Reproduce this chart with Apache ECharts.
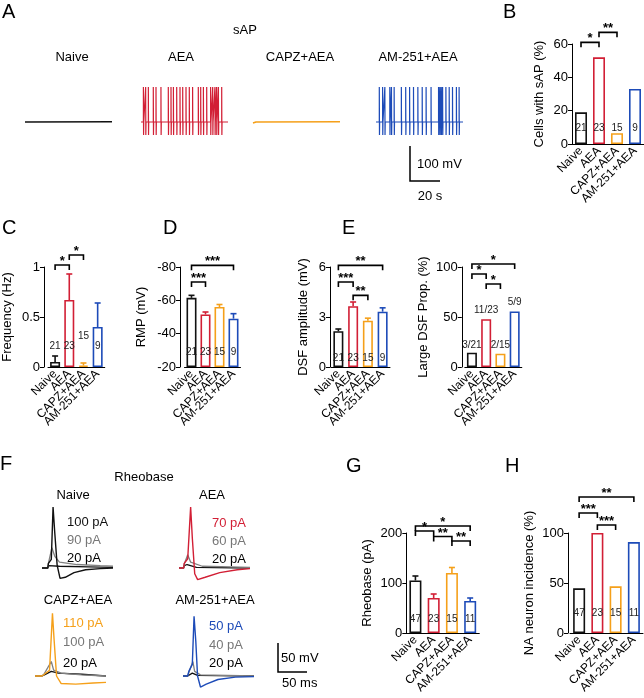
<!DOCTYPE html>
<html><head><meta charset="utf-8">
<script src="https://cdn.jsdelivr.net/npm/echarts@6/dist/echarts.min.js"></script>
<style>html,body{margin:0;padding:0;background:#fff}#c{width:644px;height:698px}</style>
</head><body><div id="c"></div>
<script>
// ---------- data ----------
const groups = ['Naive','AEA','CAPZ+AEA','AM-251+AEA'];
const colors = ['#111111','#d21f35','#f5a01a','#1d4bb8'];
// B
const sapPct = [19,52,6.5,33];
const sapN = ['21','23','15','9'];
// C
const freqMean = [0.05,0.67,0.015,0.40];
const freqErr = [0.11,0.93,0.04,0.64];
const freqN = ['21','23','15','9'];
const freqNPos = [0.21,0.21,0.31,0.21];
// D
const rmpMean = [-61.5,-51.5,-56,-49];
const rmpErr = [-63,-53,-57.5,-52];
const rmpN = ['21','23','15','9'];
// E
const dsfMean = [2.15,3.65,2.78,3.32];
const dsfErr = [2.28,3.9,2.93,3.55];
const dsfN = ['21','23','15','9'];
const largeDsf = [14.3,47.8,13.3,55.6];
const largeDsfLab = ['3/21','11/23','2/15','5/9'];
const largeDsfLabPos = [22,57,22,65];
// G
const rheoMean = [105,70,120,64];
const rheoErr = [114,78,131,70];
const rheoN = ['47','23','15','11'];
// H
const naPct = [44.7,100,46.7,90.9];
const naN = ['47','23','15','11'];
// significance: [from, to, level, text]
const sigB = [[0,1,61,'*'],[1,2,67,'**']];
const sigC = [[0,1,1.02,'*'],[1,2,1.12,'*']];
const sigD = [[0,1,71,'***'],[0,3,81,'***']];
const sigE1 = [[0,1,5.1,'***'],[1,2,4.3,'**'],[0,3,6.1,'**']];
const sigE2 = [[0,1,93,'*'],[1,2,83,'*'],[0,3,103,'*']];
const sigG = [[0,1,204,'*'],[1,2,193,'**'],[2,3,184,'**'],[0,3,214,'*']];
const sigH = [[0,1,120,'***'],[1,2,108,'***'],[0,3,136,'**']];
// A: spike times (s)
const spikesAEA = [1.6,3.1,4.9,8.2,10,13.3,18.2,20,21.6,23.8,26,27.8,30,32.2,34.4,38.2,39.8,41.6,43.8,46.4,47.8,49.3,50.4,51.6,53.8];
const spikesAM = [2.2,4.4,5.9,9.2,10.3,12.1,16.9,19.8,22.4,25,27.9,30.8,33.4,36.7,41.7,42.6,43.5,44.4,46.6,48.8,51,53.6,55.4];
const baseNaive = [[0,0],[58,0.5]];
const baseCAPZ = [[0,-3],[2,0],[58,1]];
const spikeAmp = [97,-36];
// F: waveforms [ms, mV]
const fNaive = [
 [[0,-60],[10,-60],[11,-56],[30,-57],[80,-58],[122,-59]],
 [[0,-60],[10,-60],[11,-52],[17,-25],[22,-40],[30,-50],[60,-54],[100,-56],[122,-57]],
 [[0,-60],[10,-60],[11,-52],[16,-45],[19,45],[22,0],[26,-55],[31,-78],[40,-76],[55,-68],[75,-63],[100,-61],[122,-60]]];
const fAEA = [
 [[0,-60],[8,-60],[9,-56],[14,-54],[30,-59],[122,-60]],
 [[0,-60],[8,-60],[9,-53],[15,-37],[20,-50],[40,-57],[122,-59]],
 [[0,-60],[8,-60],[9,-52],[15,-44],[20,45],[23,-10],[27,-70],[32,-80],[45,-76],[70,-68],[100,-63],[122,-61]]];
const fCAPZ = [
 [[0,-60],[12,-60],[16,-58],[28,-52],[40,-55],[80,-57],[122,-60]],
 [[0,-60],[12,-60],[16,-56],[28,-35],[32,-50],[45,-55],[80,-58],[122,-60]],
 [[0,-60],[12,-60],[16,-57],[25,-50],[30,48],[33,0],[37,-60],[45,-73],[70,-74],[100,-72],[122,-71]]];
const fAM = [
 [[0,-60],[8,-60],[10,-57],[16,-55],[25,-59],[122,-60]],
 [[0,-60],[8,-60],[10,-54],[17,-35],[20,-52],[30,-58],[122,-60]],
 [[0,-60],[8,-60],[10,-52],[16,-40],[19,43],[22,0],[25,-60],[30,-79],[40,-74],[60,-66],[90,-62],[122,-61]]];
const fLabels = [['20 pA','90 pA','100 pA'],['20 pA','60 pA','70 pA'],['20 pA','100 pA','110 pA'],['20 pA','40 pA','50 pA']];

// ---------- build ----------
const FONT = '"Liberation Sans", Arial, sans-serif';
const grids=[], xAxes=[], yAxes=[], series=[], graphics=[];

function spikeLine(times){
  const pts=[[0,0]];
  times.forEach(t=>{pts.push([t,0],[t,spikeAmp[0]],[t+0.12,spikeAmp[1]],[t+0.24,0]);});
  pts.push([58,0]);
  return pts;
}
function traceGrid(left,top,w,h,xr,yr){
  const i=grids.length;
  grids.push({left,top,width:w,height:h});
  xAxes.push({gridIndex:i,type:'value',min:xr[0],max:xr[1],show:false});
  yAxes.push({gridIndex:i,type:'value',min:yr[0],max:yr[1],show:false});
  return i;
}
function addLine(gi,data,color,width){
  series.push({type:'line',xAxisIndex:gi,yAxisIndex:gi,data,showSymbol:false,symbol:'none',
    lineStyle:{color,width:width||1.2},silent:true,animation:false});
}
// A
const aLeft=[25,141,253,376];
const aData=[baseNaive,spikeLine(spikesAEA),baseCAPZ,spikeLine(spikesAM)];
aLeft.forEach((l,k)=>{const gi=traceGrid(l,82.4,87,61.2,[0,58],[-60,110]);addLine(gi,aData[k],colors[k],k%2?1.2:1.5);});
// F
const fSets=[fNaive,fAEA,fCAPZ,fAM];
const fPos=[[42,498.4],[179,498.4],[35,606.4],[183,606.4]];
fSets.forEach((set,k)=>{
  const gi=traceGrid(fPos[k][0],fPos[k][1],71,87,[0,122],[-90,60]);
  addLine(gi,set[0],'#111',1.3);addLine(gi,set[1],'#808080',1.3);addLine(gi,set[2],colors[k],1.4);
});

function barPanel(o){
  const gi=grids.length;
  grids.push({left:o.left,top:o.top,width:o.w,height:100});
  xAxes.push({gridIndex:gi,type:'category',data:groups,
    axisLine:{lineStyle:{color:'#000',width:1}},axisTick:{show:false},
    axisLabel:{rotate:45,interval:0,fontSize:12,color:'#000',fontFamily:FONT,margin:5}});
  yAxes.push({gridIndex:gi,type:'value',min:o.min,max:o.max,interval:o.int,offset:o.offset||0,
    name:o.name,nameLocation:'middle',nameGap:o.gap,nameRotate:90,
    nameTextStyle:{fontSize:13,color:'#000',fontFamily:FONT},
    axisLine:{show:true,lineStyle:{color:'#000',width:1}},axisTick:{show:true,length:4,lineStyle:{color:'#000'}},
    splitLine:{show:false},axisLabel:{fontSize:13,color:'#000',fontFamily:FONT,margin:4,formatter:o.fmt}});
  const mk=(v,k)=>({value:v,itemStyle:{color:'#fff',borderColor:colors[k],borderWidth:1.6}});
  if(o.base!=null){
    series.push({type:'bar',xAxisIndex:gi,yAxisIndex:gi,stack:'s'+gi,barWidth:o.bw,silent:true,z:1,
      data:o.vals.map(()=>o.base),itemStyle:{color:'transparent'},animation:false});
    series.push({type:'bar',xAxisIndex:gi,yAxisIndex:gi,stack:'s'+gi,barWidth:o.bw,z:1,
      data:o.vals.map((v,k)=>mk(v-o.base,k)),animation:false});
  } else {
    series.push({type:'bar',xAxisIndex:gi,yAxisIndex:gi,barWidth:o.bw,z:1,data:o.vals.map(mk),animation:false});
  }
  if(o.errs){
    series.push({type:'custom',xAxisIndex:gi,yAxisIndex:gi,clip:false,animation:false,z:5,
      data:o.vals.map((v,k)=>[k,v,o.errs[k]]),
      renderItem:(p,api)=>{const a=api.coord([api.value(0),api.value(1)]),b=api.coord([api.value(0),api.value(2)]);
        const c=colors[p.dataIndex];
        return {type:'group',children:[
          {type:'line',shape:{x1:a[0],y1:a[1],x2:b[0],y2:b[1]},style:{stroke:c,lineWidth:1.6}},
          {type:'line',shape:{x1:b[0]-3,y1:b[1],x2:b[0]+3,y2:b[1]},style:{stroke:c,lineWidth:1.6}}]};}});
  }
  series.push({type:'custom',xAxisIndex:gi,yAxisIndex:gi,clip:false,animation:false,z:10,
    data:o.nLab.map((t,k)=>[k,o.nPos[k]]),
    renderItem:(p,api)=>{const a=api.coord([api.value(0),api.value(1)]);
      return {type:'text',z2:10,style:{text:o.nLab[p.dataIndex],x:a[0],y:a[1],align:'center',verticalAlign:'middle',
        font:'10px '+FONT,fill:'#222'}};}});
  series.push({type:'custom',xAxisIndex:gi,yAxisIndex:gi,clip:false,animation:false,z:10,
    data:o.sig.map(s=>[s[0],s[2]]),
    renderItem:(p,api)=>{const s=o.sig[p.dataIndex];const a=api.coord([s[0],s[2]]),b=api.coord([s[1],s[2]]);const y=a[1];
      return {type:'group',children:[
        {type:'polyline',shape:{points:[[a[0],y+5],[a[0],y],[b[0],y],[b[0],y+5]]},style:{stroke:'#000',lineWidth:1.6,fill:null}},
        {type:'text',style:{text:s[3],x:(a[0]+b[0])/2,y:y+3,align:'center',verticalAlign:'bottom',font:'bold 13px '+FONT,fill:'#000'}}]};}});
}
barPanel({left:572,top:44,w:72,min:0,max:60,int:20,vals:sapPct,nLab:sapN,nPos:[9.6,9.6,9.6,9.6],sig:sigB,bw:12,name:'Cells with sAP (%)',gap:26});
barPanel({left:46.75,offset:4,top:267,w:58,min:0,max:1,int:0.5,vals:freqMean,errs:freqErr,nLab:freqN,nPos:freqNPos,sig:sigC,bw:10,name:'Frequency (Hz)',gap:30});
barPanel({left:184.5,offset:4.5,top:267,w:56,min:20,max:80,int:20,base:20,vals:rmpMean.map(Math.abs),errs:rmpErr.map(Math.abs),nLab:rmpN,nPos:[29,29,29,29],sig:sigD,bw:10,name:'RMP (mV)',gap:32,fmt:v=>'-'+v});
barPanel({left:331,offset:1,top:267,w:59,min:0,max:6,int:3,vals:dsfMean,errs:dsfErr,nLab:dsfN,nPos:[0.54,0.54,0.54,0.54],sig:sigE1,bw:10,name:'DSF amplitude (mV)',gap:20});
barPanel({left:464.8,offset:3,top:267,w:57,min:0,max:100,int:50,vals:largeDsf,nLab:largeDsfLab,nPos:largeDsfLabPos,sig:sigE2,bw:10,name:'Large DSF Prop. (%)',gap:32});
barPanel({left:406.3,top:533,w:73,min:0,max:200,int:100,vals:rheoMean,errs:rheoErr,nLab:rheoN,nPos:[27,27,27,27],sig:sigG,bw:12,name:'Rheobase (pA)',gap:32});
barPanel({left:570,offset:2,top:533,w:73,min:0,max:100,int:50,vals:naPct,nLab:naN,nPos:[20,20,20,20],sig:sigH,bw:12,name:'NA neuron incidence (%)',gap:32});

// ---------- texts & scale bars ----------
function txt(t,x,y,size,color,align){graphics.push({type:'text',x,y,style:{text:t,font:size+'px '+FONT,fill:color||'#000',align:align||'left',verticalAlign:'middle'}});}
[['A',2,12],['B',503,12],['C',2,228],['D',163,228],['E',342,228],['F',0,464],['G',346,466],['H',505,466]].forEach(l=>txt(l[0],l[1],l[2],20));
txt('sAP',245,30,13,'#000','center');
[['Naive',72],['AEA',181],['CAPZ+AEA',300],['AM-251+AEA',418]].forEach(l=>txt(l[0],l[1],57,13,'#000','center'));
txt('100 mV',417,164,13);txt('20 s',430,196,13,'#000','center');
graphics.push({type:'polyline',shape:{points:[[410,146],[410,181],[440,181]]},style:{stroke:'#000',lineWidth:1.5,fill:null}});
txt('Rheobase',144,477,13,'#000','center');
txt('Naive',73,495,13,'#000','center');txt('AEA',212,495,13,'#000','center');
txt('CAPZ+AEA',78,600,13,'#000','center');txt('AM-251+AEA',215,600,13,'#000','center');
const fLabPos=[[67,[558,540,522]],[212,[559,541,523]],[63,[663,642,623]],[209,[663,645,626]]];
fLabPos.forEach((p,k)=>{const cs=['#000','#777',colors[k]];p[1].forEach((y,j)=>txt(fLabels[k][j],p[0],y,13,cs[j]));});
graphics.push({type:'polyline',shape:{points:[[278,643],[278,672],[307,672]]},style:{stroke:'#000',lineWidth:1.5,fill:null}});
txt('50 mV',281,658,13);txt('50 ms',282,683,13);

const chart=echarts.init(document.getElementById('c'),null,{renderer:'canvas'});
chart.setOption({animation:false,backgroundColor:'#fff',grid:grids,xAxis:xAxes,yAxis:yAxes,series,graphic:graphics});
</script></body></html>
